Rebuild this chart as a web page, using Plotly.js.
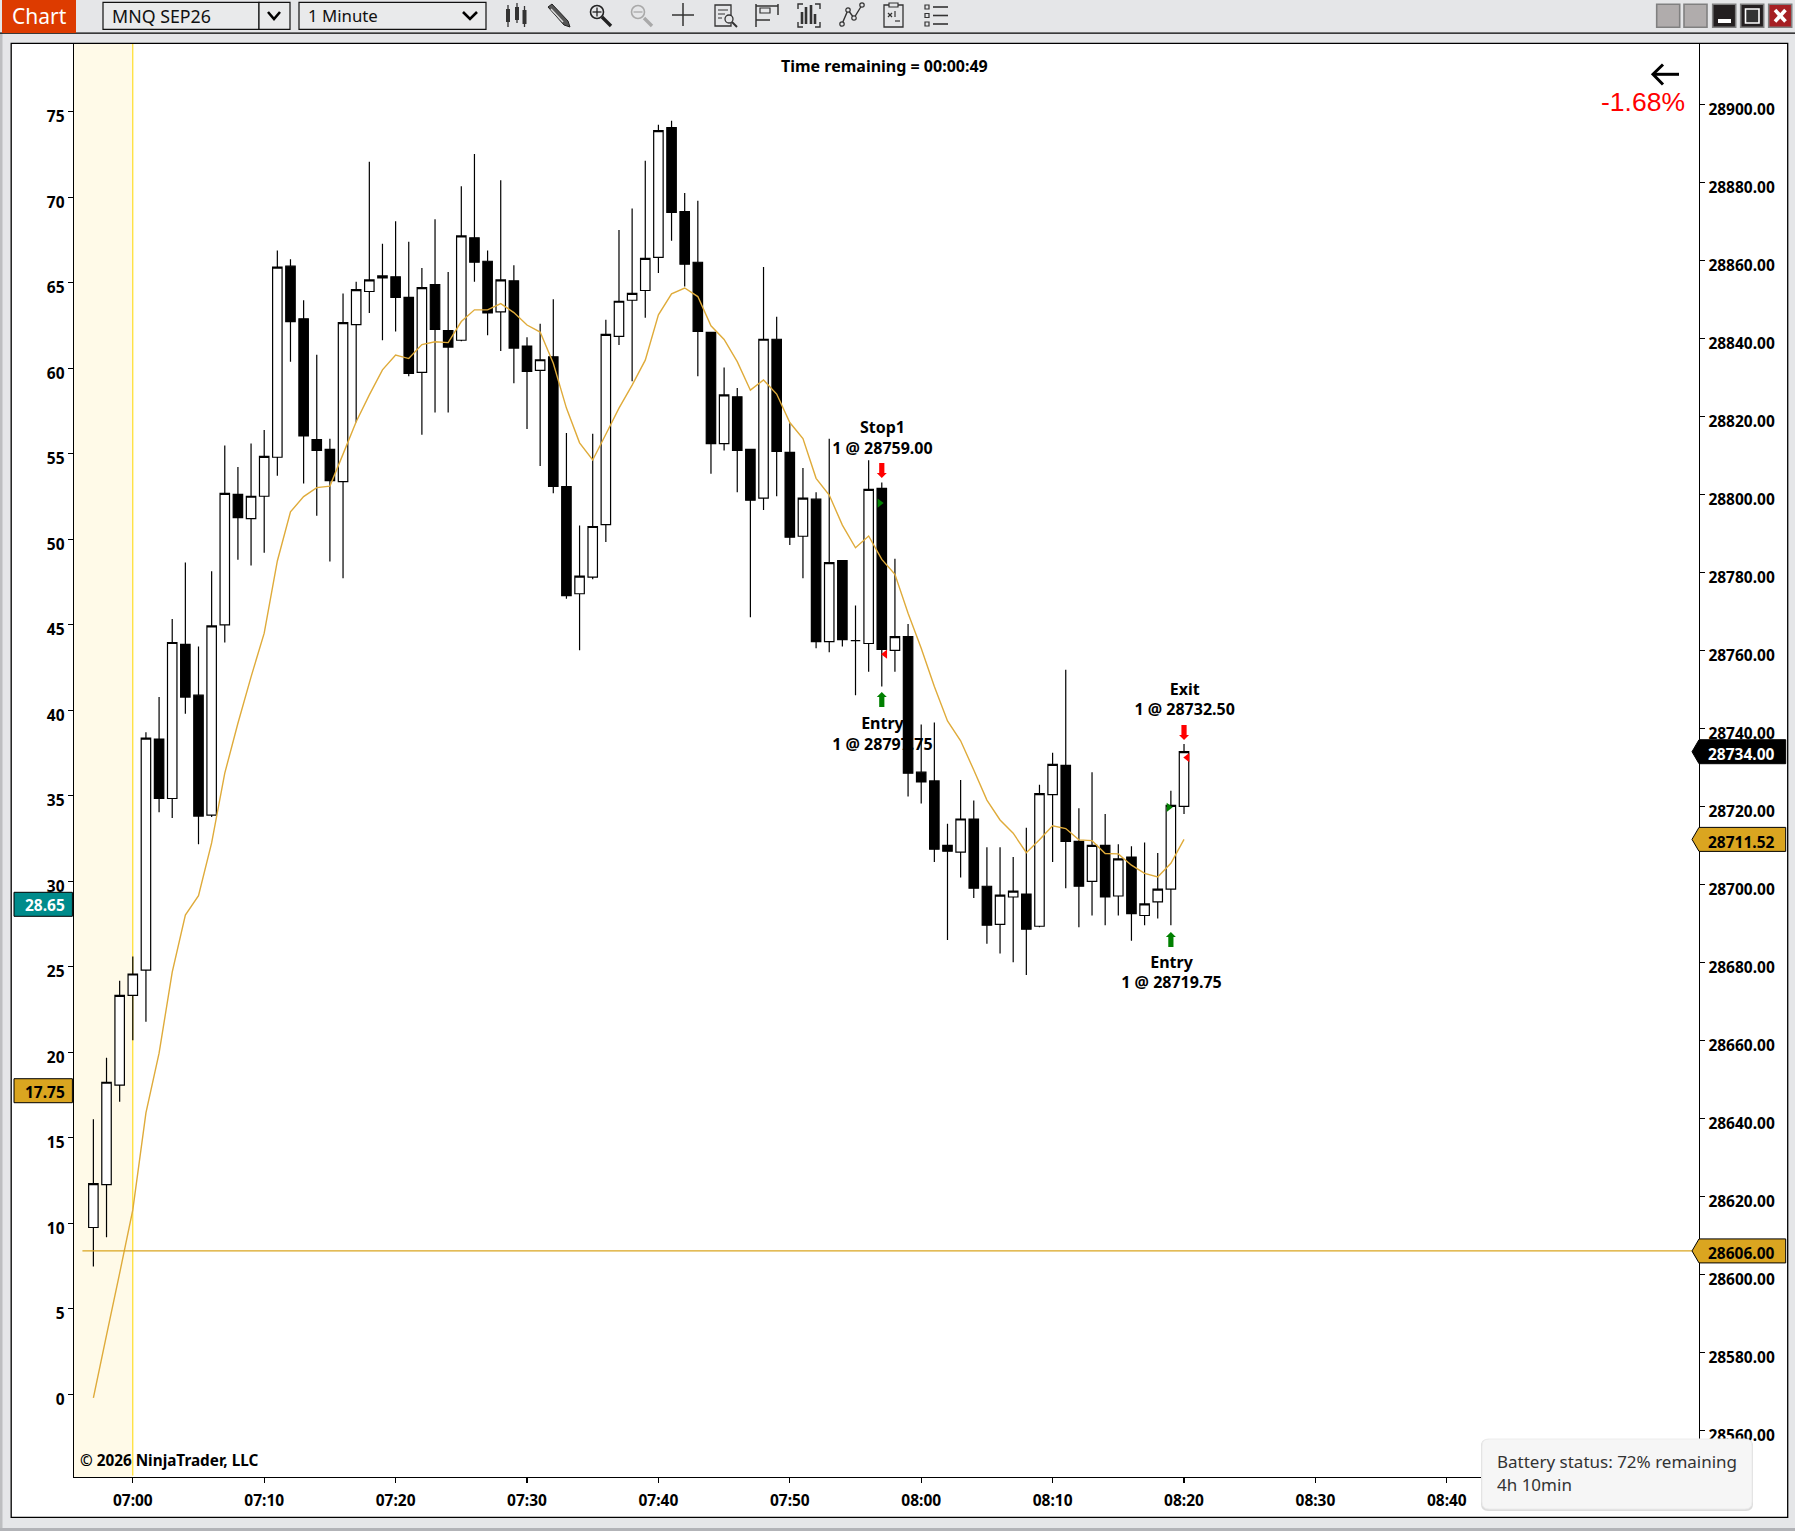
<!DOCTYPE html>
<html><head><meta charset="utf-8">
<script src="https://cdn.plot.ly/plotly-3.0.1.min.js"></script>
<style>html,body{margin:0;padding:0;background:#e5e6e8;overflow:hidden}#g{width:1795px;height:1531px}</style>
</head><body><div id="g"></div>
<script>
const day='2026-06-01 ';
const times=['06:57','06:58','06:59','07:00','07:01','07:02','07:03','07:04','07:05','07:06','07:07','07:08','07:09','07:10','07:11','07:12','07:13','07:14','07:15','07:16','07:17','07:18','07:19','07:20','07:21','07:22','07:23','07:24','07:25','07:26','07:27','07:28','07:29','07:30','07:31','07:32','07:33','07:34','07:35','07:36','07:37','07:38','07:39','07:40','07:41','07:42','07:43','07:44','07:45','07:46','07:47','07:48','07:49','07:50','07:51','07:52','07:53','07:54','07:55','07:56','07:57','07:58','07:59','08:00','08:01','08:02','08:03','08:04','08:05','08:06','08:07','08:08','08:09','08:10','08:11','08:12','08:13','08:14','08:15','08:16','08:17','08:18','08:19','08:20'];
const opens=[28612,28623,28648.5,28671.5,28678,28737.25,28722,28761.5,28748.5,28717.75,28766.5,28800,28793.75,28799.5,28809.5,28858.5,28845,28814,28811.5,28803.25,28843.5,28852,28855.5,28855.75,28850.5,28831.25,28853.75,28842,28839.5,28865.75,28859.75,28846.75,28854.75,28838,28831.75,28835.25,28802,28774.5,28778.75,28792.25,28840.5,28849.75,28852.25,28860.75,28894,28872.5,28859.5,28841.5,28813,28825,28811.5,28799,28839.75,28810.75,28789.25,28798.75,28762.25,28783,28762.5,28761.75,28801.5,28760,28763.5,28728.75,28726.5,28710,28708.25,28716.75,28699.5,28689.75,28696.75,28697.5,28689.25,28723,28730.5,28711,28700.75,28710,28697,28707,28692,28695.5,28698.75,28720];
const highs=[28639.75,28655.5,28675.25,28681.5,28739,28748,28768,28782.5,28761,28780.25,28812.5,28807,28813,28816.5,28862.5,28860.25,28849.75,28835.75,28814.25,28851.5,28854.5,28885.25,28864.25,28870,28864.75,28858,28870.5,28857,28879,28887.25,28862.5,28880.5,28858.75,28840.25,28843.75,28850,28815.75,28792,28815.5,28844.75,28867.75,28873.25,28885.5,28894.75,28895.75,28877.25,28875.25,28841.5,28832.5,28827.25,28811.5,28858.25,28845.5,28818.25,28806.75,28800.5,28814.25,28783,28771.5,28808.75,28803,28783.5,28766.75,28741,28741.5,28715.5,28726.75,28721.5,28709.5,28709.5,28707,28714.5,28725.5,28733.75,28755,28719.5,28728.75,28718,28710.25,28709.75,28710.75,28708,28724,28736];
const lows=[28602,28609.5,28644.25,28660,28664.75,28718.5,28717,28743.75,28710.25,28717.25,28762,28783.25,28781.75,28785,28804.75,28834,28802.75,28794.5,28782.75,28778.5,28818.5,28846.5,28839.5,28841.75,28830.25,28815.25,28821,28821,28839.25,28854.5,28840.75,28836.75,28828.5,28816.75,28807.25,28800.25,28773.25,28760,28778.25,28787.75,28838.25,28829,28845.25,28856.75,28865,28853.25,28830.25,28805.25,28811.25,28800.5,28768.5,28796,28799.5,28787,28778.5,28760.5,28759.5,28761,28748.5,28754.5,28750.75,28754.5,28722.5,28720.75,28705.75,28685.75,28701.75,28696.5,28684.75,28682.25,28680,28676.75,28689,28705.75,28699,28689,28692,28689.5,28692,28685.5,28689.5,28691.25,28689.5,28718];
const closes=[28623.25,28649.25,28671.5,28677,28737.5,28722,28762,28748,28717.5,28766.25,28800.25,28794,28799.5,28809.75,28858.25,28844.25,28815,28811.25,28803.5,28844,28852.5,28855,28856,28850.5,28831,28853,28842.25,28837.75,28866.25,28859.5,28846.5,28855,28837.5,28831.5,28834.5,28802,28774,28779,28791.75,28841,28849.5,28851.5,28860.5,28893.25,28872.25,28859,28841.75,28813,28825.5,28811.25,28798.5,28839.75,28811,28789,28799,28762.25,28782.5,28762.75,28762.5,28801.25,28760.25,28763.5,28728.5,28726.25,28709,28708.5,28716.75,28699,28689.5,28697.25,28698.25,28688.5,28723.25,28730.75,28711,28699.5,28710,28696.75,28706.5,28692.5,28695,28698.75,28720.25,28734];
const emaValues=[28568.3,28584.4,28600.3,28616.5,28641.4,28656.7,28677.5,28692.1,28697.1,28710.6,28728.5,28741.3,28753.2,28764.4,28782.9,28795.5,28799.4,28801.7,28802.1,28810.3,28818.6,28825.5,28831.9,28835.7,28834.8,28838.4,28839.1,28838.9,28844.3,28847.3,28847.3,28848.9,28846.6,28843.4,28841.6,28833.6,28822.1,28813.2,28808.8,28815.4,28822.1,28828,28834.4,28846,28851.4,28852.9,28850.7,28843.2,28839.7,28834,28826.7,28829.3,28825.7,28818.4,28814.3,28804.1,28799.8,28792.1,28786.3,28789.3,28783.3,28779.5,28769.5,28760.5,28750.7,28741.9,28736.8,28729.3,28721.6,28716.5,28713.1,28708.1,28711.4,28715,28714.3,28711.4,28711.2,28707.9,28707.8,28704.9,28702.8,28701.9,28705.4,28711.52];
const levelTimes=['06:56:10','08:58:40'];
const levelPrice=[28606,28606];
const labelTimes=['07:57:03','07:57:03','08:20:03','08:19:03'];
const labelPrices=[28814,28738.25,28747,28677];
const labelTexts=['Stop1<br>1 @ 28759.00','Entry<br>1 @ 28797.75','Exit<br>1 @ 28732.50','Entry<br>1 @ 28719.75'];
const arrowTimes=['07:57','07:57','08:20','08:19'];
const arrowTips=[28804.2,28749.3,28737,28687.8];
const arrowDirs=['down','up','down','up'];
const buyFillTimes=['07:56:50','08:18:50'];
const buyFillPrices=[28797.75,28719.75];
const sellFillTimes=['07:57:15','08:20:15'];
const sellFillPrices=[28759,28732.5];
const tagPrices=[28734,28711.52,28606];
const tagTexts=['28734.00','28711.52','28606.00'];
const tagFills=['#000000','#DAA520','#DAA520'];
const tagColors=['#ffffff','#000000','#000000'];
const leftTagValues=[28.65,17.75];
const leftTagTexts=['28.65','17.75'];
const leftTagFills=['#008B8B','#DAA520'];
const leftTagColors=['#ffffff','#000000'];
const xTickTimes=['07:00','07:10','07:20','07:30','07:40','07:50','08:00','08:10','08:20','08:30','08:40'];
const sessionBand=['06:55:31.5','07:00'];
const xEnd='08:59:11.5';
const priceRange=[28548.03,28915.46];
const leftRange=[-4.84,78.96];

const FONT='"Noto Sans","Open Sans",sans-serif';
const d=t=>day+t;
const PL=74,PR=1699,PT=44,PB=1477;
const X=x=>(x-PL)/(PR-PL), Y=y=>1-(y-PT)/(PB-PT);
const shapes=[],ann=[];
const rect=(x0,y0,x1,y1,fill,stroke,w,layer)=>shapes.push({type:'rect',xref:'paper',yref:'paper',x0:X(x0),x1:X(x1),y0:Y(y0),y1:Y(y1),fillcolor:fill||'rgba(0,0,0,0)',line:{color:stroke||'rgba(0,0,0,0)',width:stroke?(w||1):0},layer:layer||'above'});
const line=(x0,y0,x1,y1,c,w,layer)=>shapes.push({type:'line',xref:'paper',yref:'paper',x0:X(x0),x1:X(x1),y0:Y(y0),y1:Y(y1),line:{color:c,width:w||1},layer:layer||'above'});
const circ=(cx,cy,r,stroke,w,fill)=>shapes.push({type:'circle',xref:'paper',yref:'paper',x0:X(cx-r),x1:X(cx+r),y0:Y(cy-r),y1:Y(cy+r),fillcolor:fill||'rgba(0,0,0,0)',line:{color:stroke,width:w||1},layer:'above'});
const poly=(pts,fill,stroke,w,close)=>shapes.push({type:'path',xref:'paper',yref:'paper',path:'M'+pts.map(p=>X(p[0])+','+Y(p[1])).join(' L')+(close===false?'':' Z'),fillcolor:fill||'rgba(0,0,0,0)',line:{color:stroke||'rgba(0,0,0,0)',width:stroke?(w||1):0},layer:'above'});
const txt=(s,x,y,o)=>ann.push(Object.assign({text:s,xref:'paper',yref:'paper',x:X(x),y:Y(y),xanchor:'left',yanchor:'middle',showarrow:false,align:'left',font:{family:FONT,size:15.5,color:'#000',weight:700}},o||{}));

// window frame
rect(11.2,43.3,1787.7,1517.3,'#ffffff','#000000',1.3,'below');
rect(0,33,2.5,1531,'#bdbec0',null,0,'below');
rect(0,1528,1795,1531,'#b2b3b7',null,0,'below');
line(0,33.2,1795,33.2,'#000',1.3,'below');
// session band
shapes.push({type:'rect',xref:'x',yref:'paper',x0:d(sessionBand[0]),x1:d(sessionBand[1]),y0:0,y1:1,fillcolor:'#FFFAE8',line:{width:0},layer:'below'});
shapes.push({type:'line',xref:'x',yref:'paper',x0:d(sessionBand[1]),x1:d(sessionBand[1]),y0:0.001,y1:1,line:{color:'#FFD700',width:1},layer:'below'});

// toolbar
rect(2,0,76,33,'#DD3B00',null,0);
txt('Chart',9.5,16,{font:{family:FONT,size:21,color:'#fff'}});
rect(103,2.3,259,29.3,'#e9eaeb','#111',1.2);
rect(259,2.3,290,29.3,'#e9eaeb','#111',1.2);
rect(299,2.3,486,29.3,'#e9eaeb','#111',1.2);
poly([[268,12],[274,19],[280,12]],null,'#000',2.6,false);
poly([[463,12],[470,19],[477,12]],null,'#000',2.6,false);
txt('MNQ SEP26',110,15.8,{font:{family:FONT,size:17.8,color:'#111'}});
txt('1 Minute',305.5,15.8,{font:{family:FONT,size:16.8,color:'#111'}});
// icon: candles
[[508,5,27,9,22],[517,3,23,7,20],[524.5,6,27,10,24]].forEach(a=>{line(a[0],a[1],a[0],a[2],'#333',1.3);rect(a[0]-2,a[3],a[0]+2,a[4],'#333');});
// icon: pencil
poly([[548,7],[552,4],[568,21],[570,27],[564,25]],'#555','#222',1);
line(551,9,563,22,'#ddd',1.4);
// icons: zoom
circ(597,12,6.5,'#222',1.6);line(592.5,12,601.5,12,'#222',1.3);line(597,7.5,597,16.5,'#222',1.3);line(602,17,611,26,'#222',3.4);
circ(638,12,6.5,'#a9a9a9',1.6);line(633.5,12,642.5,12,'#a9a9a9',1.3);line(644,18,652,26,'#a9a9a9',3.4);
// icon: cross
line(683,3,683,26,'#333',1.5);line(672,15,694,15,'#333',1.5);
// icon: doc search
rect(715,5,731,26,null,'#333',1.3);line(718,10,728,10,'#333',1);line(718,14,725,14,'#333',1);line(718,18,722,18,'#333',1);circ(729,19,4,'#333',1.3,'#e5e6e8');line(732,22,737,27,'#333',2);
// icon: measure
line(756,6,778,6,'#333',1.5);line(756,4,756,27,'#333',1.5);line(778,4,778,15,'#333',1.5);rect(760,8,770,13,'#e5e6e8','#333',1.2);line(756,20,770,20,'#333',1.5);
// icon: bars
poly([[798,9],[798,4],[803,4]],null,'#333',1.4,false);poly([[815,4],[820,4],[820,9]],null,'#333',1.4,false);poly([[798,22],[798,27],[803,27]],null,'#333',1.4,false);poly([[815,27],[820,27],[820,22]],null,'#333',1.4,false);
[[802,12,24],[806,7,24],[811,5,24],[815,14,24]].forEach(a=>rect(a[0]-1.3,a[1],a[0]+1.3,a[2],'#333'));
// icon: polyline
poly([[842,24],[848,10],[854,18],[862,5]],null,'#333',1.4,false);[[842,24],[848,10],[854,18],[862,5]].forEach(p=>circ(p[0],p[1],2.2,'#333',1.2,'#e5e6e8'));
// icon: doc
rect(884,5,903,27,null,'#333',1.3);rect(889,3,898,7,'#e5e6e8','#333',1.2);line(888,13,892,17,'#333',1.2);line(892,13,888,17,'#333',1.2);line(895,21,900,21,'#333',1.2);line(895,11,895,17,'#333',1.2);
// icon: list
[7,15.5,24].forEach(y=>{rect(925,y-2,929,y+2,null,'#333',1.2);line(933,y,948,y,'#333',1.6);});
// window buttons
[1656.7,1684].forEach(x=>rect(x,4.3,x+23,27.3,'#b0acac','#808080',1.6));
rect(1712.7,4.3,1735.7,27.3,'#231f20','#808080',1.6);rect(1718,19,1731,23,'#fff');
rect(1740.7,4.3,1763.7,27.3,'#231f20','#808080',1.6);rect(1745.5,9,1759,23,'#333','#fff',1.6);
rect(1768.7,4.3,1791.7,27.3,'#A61F23','#808080',1.6);line(1775,10,1785.5,21.5,'#fff',3.6);line(1785.5,10,1775,21.5,'#fff',3.6);

// arrow and percent, header
line(1654,74.3,1679,74.3,'#000',3);poly([[1663,64.5],[1653,74.3],[1663,84.5]],null,'#000',3,false);
txt('-1.68%',1686.5,101.7,{xanchor:'right',font:{family:'"Liberation Sans",Arial,sans-serif',size:26.5,color:'#ff0000'}});
txt('Time remaining = 00:00:49',884,66,{xanchor:'center',font:{family:FONT,size:16,color:'#000',weight:700}});
txt('© 2026 NinjaTrader, LLC',78,1459.5,{font:{family:FONT,size:15.3,color:'#000',weight:700}});

// price tags
tagPrices.forEach((p,i)=>{
 shapes.push({type:'path',xref:'paper',yref:'y',xsizemode:'pixel',ysizemode:'pixel',xanchor:1,yanchor:p,path:'M-7,0 L0,12 L86.7,12 L86.7,-12 L0,-12 Z',fillcolor:tagFills[i],line:{color:'#000',width:1},layer:'above'});
 ann.push({text:tagTexts[i],xref:'paper',yref:'y',x:X(1705.8),y:p,xanchor:'left',yanchor:'middle',yshift:-2.2,showarrow:false,font:{family:FONT,size:15.5,color:tagColors[i],weight:700}});
});
leftTagValues.forEach((v,i)=>{
 shapes.push({type:'rect',xref:'paper',yref:'y3',xsizemode:'pixel',ysizemode:'pixel',xanchor:0,yanchor:v,x0:-60,x1:-1.6,y0:-12,y1:12,fillcolor:leftTagFills[i],line:{color:'#000',width:1},layer:'above'});
 ann.push({text:leftTagTexts[i],xref:'paper',yref:'y3',x:X(67),y:v,xanchor:'right',yanchor:'middle',yshift:-1,showarrow:false,font:{family:FONT,size:15.5,color:leftTagColors[i],weight:700}});
});
// trade arrows
arrowTimes.forEach((t,i)=>{
 const s=arrowDirs[i]==='down'?1:-1;
 shapes.push({type:'path',xref:'x',yref:'y',xsizemode:'pixel',ysizemode:'pixel',xanchor:d(t),yanchor:arrowTips[i],
  path:`M0,0 L5,${s*5} L2.6,${s*5} L2.6,${s*15} L-2.6,${s*15} L-2.6,${s*5} L-5,${s*5} Z`,
  fillcolor:arrowDirs[i]==='down'?'#ff0000':'#008000',line:{width:0},layer:'above'});
});
// battery popup
const R=(x0,y0,x1,y1,r)=>'M'+X(x0+r)+','+Y(y0)+' L'+X(x1-r)+','+Y(y0)+' Q'+X(x1)+','+Y(y0)+' '+X(x1)+','+Y(y0+r)+' L'+X(x1)+','+Y(y1-r)+' Q'+X(x1)+','+Y(y1)+' '+X(x1-r)+','+Y(y1)+' L'+X(x0+r)+','+Y(y1)+' Q'+X(x0)+','+Y(y1)+' '+X(x0)+','+Y(y1-r)+' L'+X(x0)+','+Y(y0+r)+' Q'+X(x0)+','+Y(y0)+' '+X(x0+r)+','+Y(y0)+' Z';
shapes.push({type:'path',xref:'paper',yref:'paper',path:R(1481,1439,1753,1511,7),fillcolor:'#dcdcdc',line:{width:0},layer:'above'});
shapes.push({type:'path',xref:'paper',yref:'paper',path:R(1482,1439,1752,1509,7),fillcolor:'#f6f6f6',line:{color:'#ececec',width:1},layer:'above'});
txt('Battery status: 72% remaining',1495,1461,{font:{family:FONT,size:17,color:'#333'}});
txt('4h 10min',1495,1484,{font:{family:FONT,size:17,color:'#333'}});

const X_D=times.map(d);
const traces=[
 {type:'scatter',mode:'text',x:labelTimes.map(d),y:labelPrices,text:labelTexts,textposition:'middle center',textfont:{family:FONT,size:16,color:'#000',weight:700},xaxis:'x',yaxis:'y',hoverinfo:'skip',showlegend:false},
 {type:'candlestick',x:X_D,open:opens,high:highs,low:lows,close:closes,xaxis:'x',yaxis:'y2',whiskerwidth:0,
  increasing:{line:{color:'#000',width:1.2},fillcolor:'#ffffff'},decreasing:{line:{color:'#000',width:1.2},fillcolor:'#000000'},hoverinfo:'skip',showlegend:false},
 {type:'scatter',mode:'lines',x:X_D,y:emaValues,xaxis:'x',yaxis:'y2',line:{color:'#DFAB3A',width:1.4,simplify:false},hoverinfo:'skip',showlegend:false},
 {type:'scatter',mode:'lines',x:levelTimes.map(d),y:levelPrice,xaxis:'x',yaxis:'y2',line:{color:'#DAA520',width:1.1},hoverinfo:'skip',showlegend:false},
 {type:'scatter',mode:'markers',x:buyFillTimes.map(d),y:buyFillPrices,xaxis:'x',yaxis:'y2',marker:{symbol:'triangle-right',size:8,color:'#008000'},hoverinfo:'skip',showlegend:false},
 {type:'scatter',mode:'markers',x:sellFillTimes.map(d),y:sellFillPrices,xaxis:'x',yaxis:'y2',marker:{symbol:'triangle-left',size:8,color:'#ff0000'},hoverinfo:'skip',showlegend:false},
 {type:'scatter',mode:'markers',x:[d('08:20'),d('08:20')],y:leftTagValues,xaxis:'x',yaxis:'y3',marker:{size:1,opacity:0},hoverinfo:'skip',showlegend:false}
];
const tickFont={family:FONT,size:15.5,color:'#000',weight:700};
const layout={width:1795,height:1531,margin:{l:PL,r:1795-PR,t:PT,b:1531-PB,pad:0},paper_bgcolor:'#e5e6e8',plot_bgcolor:'#ffffff',showlegend:false,boxgap:0.28,boxgroupgap:0,hovermode:false,
 xaxis:{type:'date',range:[d(sessionBand[0]),d(xEnd)],tickmode:'array',tickvals:xTickTimes.map(d),ticktext:xTickTimes,ticks:'outside',ticklen:5,tickwidth:1.2,tickcolor:'#000',showline:true,linecolor:'#000',linewidth:1.3,showgrid:false,zeroline:false,tickfont:tickFont,ticklabelstandoff:4,rangeslider:{visible:false},anchor:'y'},
 yaxis:{side:'right',range:priceRange,tick0:28560,dtick:20,tickformat:'.2f',ticks:'outside',ticklen:5,tickwidth:1.2,tickcolor:'#000',showline:true,linecolor:'#000',linewidth:1.3,showgrid:false,zeroline:false,tickfont:tickFont,ticklabelshift:5},
 yaxis2:{overlaying:'y',side:'right',range:priceRange,visible:false,showgrid:false,zeroline:false},
 yaxis3:{overlaying:'y',side:'left',range:leftRange,tick0:0,dtick:5,ticks:'outside',ticklen:5,tickwidth:1.2,tickcolor:'#000',showline:true,linecolor:'#000',linewidth:1.3,showgrid:false,zeroline:false,tickfont:tickFont,ticklabelshift:5},
 shapes:shapes,annotations:ann};
Plotly.newPlot('g',traces,layout,{displayModeBar:false,staticPlot:true,responsive:false});
</script></body></html>
